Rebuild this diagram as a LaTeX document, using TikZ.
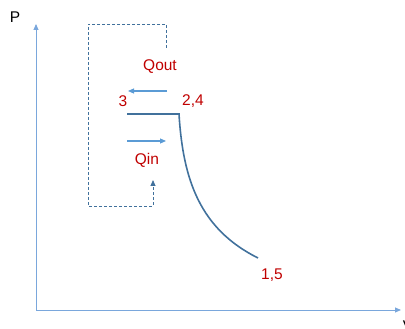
\documentclass[tikz,border=0pt]{standalone}
\usepackage{fontspec}
\setmainfont{Liberation Sans}
\usetikzlibrary{arrows.meta}
\definecolor{ink}{HTML}{000000}
\definecolor{axis}{HTML}{7AA7DC}
\definecolor{flow}{HTML}{5B9BD5}
\definecolor{steel}{HTML}{41719C}
\definecolor{mark}{HTML}{C00000}
\tikzset{every node/.style={font=\fontsize{15.5}{17}\selectfont,inner sep=0pt},
lbl/.style={text=mark},
ax/.style={-{Triangle[length=6pt,width=5pt]},draw=axis,line width=.9pt},
heat/.style={-{Triangle[length=6pt,width=5pt]},draw=flow,line width=1.1pt},
loop/.style={-{Triangle[length=6pt,width=5pt]},draw=steel,line width=.8pt,dash pattern=on 3pt off 2pt},
proc/.style={draw=steel,line width=1.6pt}}
\begin{document}
\begin{tikzpicture}[x=1pt,y=1pt]
\useasboundingbox (0,0) rectangle (405,329);
% axes
\coordinate (o) at (36,19);
\coordinate (ytip) at (36,305);
\coordinate (xtip) at (401,19);
\draw[ax] (o)--(ytip);
\draw[ax] (o)--(xtip);
\node[text=ink] (plab) at (15,312) {P};
\node[text=ink] (vlab) at (408,3) {V};
% state points
\node[lbl] (s3) at (123,228) {3};
\node[lbl] (s24) at (193,228) {2,4};
\node[lbl] (s15) at (272,54) {1,5};
\coordinate (a) at (127,215);
\coordinate (b) at (179,215);
\coordinate (c) at (258,71);
\draw[proc] (a)--(b) .. controls (183,149) and (200,100) .. (c);
% heat flows
\node[lbl] (qout) at (160,262) {Qout};
\node[lbl] (qin) at (147,169) {Qin};
\coordinate (qo1) at (167,238);
\coordinate (qo2) at (128,238);
\coordinate (qi1) at (127,188);
\coordinate (qi2) at (166,188);
\draw[heat] (qo1)--(qo2);
\draw[heat] (qi1)--(qi2);
% return path
\coordinate (r1) at (166,281);
\coordinate (r2) at (153,149);
\draw[loop] (r1)--(166,305)--(88,305)--(88,123)--(153,123)--(r2);
\end{tikzpicture}
\end{document}
